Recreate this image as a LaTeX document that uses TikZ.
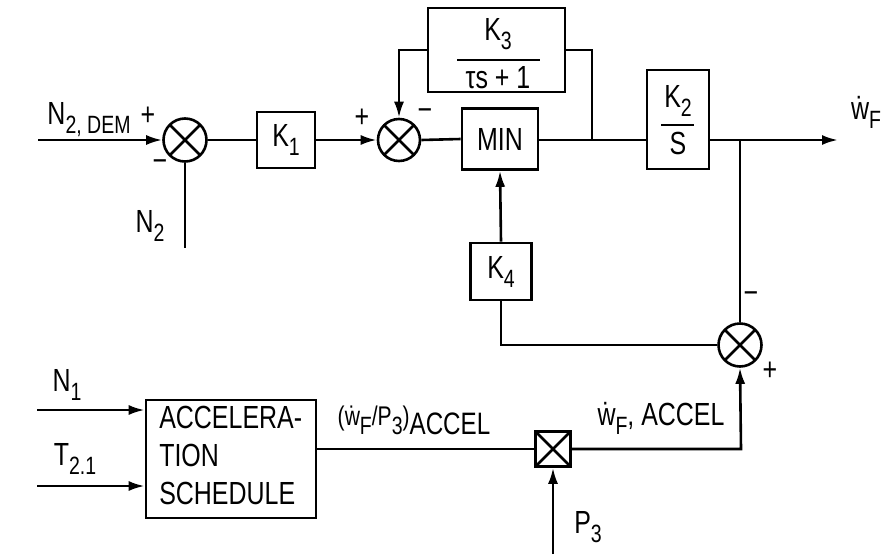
\documentclass[tikz,border=0pt]{standalone}
\usepackage{fontspec}
\setmainfont{Liberation Sans}[FakeStretch=0.78]
\usetikzlibrary{arrows.meta}
\newcommand\wdott{\leavevmode\setbox0\hbox{w}\hbox to \wd0{\hss\char"02D9\hss}\kern-\wd0\box0}
\newcommand\sbs[1]{\raisebox{-9pt}{\fontsize{25}{25}\selectfont #1}}
\begin{document}
\begin{tikzpicture}[x=1pt,y=-1pt,line width=2.6pt,
  every node/.style={font=\fontsize{32}{38}\selectfont, inner sep=0pt},
  blk/.style={draw, rectangle, inner sep=0pt},
  sumj/.style={draw, circle, minimum size=43pt, inner sep=0pt,
    path picture={\draw[line width=2.6pt]
      ([shift={(45:30pt)}]path picture bounding box.center) -- ([shift={(225:30pt)}]path picture bounding box.center)
      ([shift={(135:30pt)}]path picture bounding box.center) -- ([shift={(-45:30pt)}]path picture bounding box.center);}},
  mulbox/.style={draw, rectangle, minimum size=35pt, inner sep=0pt,
    path picture={\draw[line width=2.6pt]
      (path picture bounding box.north west) -- (path picture bounding box.south east)
      (path picture bounding box.north east) -- (path picture bounding box.south west);}},
  arr/.style={-{Latex[length=16pt,width=10pt]}},
  lbl/.style={inner sep=0pt}]
\useasboundingbox (0,0) rectangle (885,554);
% top row
\coordinate (in1) at (38,140);
\node[sumj] (s1) at (185,140) {};
\node[lbl] (n2dem) at (89,120) {N\sbs{2, DEM}};
\node[lbl] (p1) at (148,116) {+};
\node[lbl] (m1) at (160,166) {\textminus};
\coordinate (n2end) at (185,248);
\node[lbl] (n2) at (150,226) {N\sbs{2}};
\node[blk, minimum width=58pt, minimum height=56pt] (k1) at (286,140) {K\sbs{1}};
\node[sumj, minimum size=42pt] (s2) at (399,140) {};
\node[lbl] (p2) at (362,118) {+};
\node[lbl] (m2) at (425,115) {\textminus};
\node[blk, minimum width=137pt, minimum height=84pt] (k3) at (496.5,50) {};
\node[lbl] (k3n) at (498,34) {K\sbs{3}};
\coordinate (k3l) at (457,60);
\coordinate (k3r) at (540,60);
\node[lbl] (k3d) at (498,78) {τs + 1};
\node[blk, minimum width=76pt, minimum height=61pt] (mn) at (500,139) {MIN};
\coordinate (j1) at (592,140);
\node[blk, minimum width=62pt, minimum height=99pt] (k2) at (678,119.5) {};
\node[lbl] (k2n) at (678,101) {K\sbs{2}};
\coordinate (k2l) at (661,125);
\coordinate (k2r) at (694,125);
\node[lbl] (k2d) at (678,143) {S};
\coordinate (j2) at (740,140);
\coordinate (out) at (838,140);
\node[lbl] (wf) at (866,112) {\wdott\sbs{F}};
% middle
\node[blk, minimum width=61pt, minimum height=57pt] (k4) at (501,271.5) {K\sbs{4}};
\node[sumj] (s3) at (740,345) {};
\node[lbl] (m3) at (751,298) {\textminus};
\node[lbl] (p3) at (770,371) {+};
\coordinate (k4c) at (501,345);
% bottom
\node[blk, minimum width=170pt, minimum height=118pt] (acc) at (231,459) {};
\node[lbl, align=left, anchor=north west] (acct) at (158,405) {ACCELERA-\\TION\\SCHEDULE};
\coordinate (n1s) at (37,410);
\coordinate (t2s) at (37,486);
\node[lbl] (n1) at (67,385) {N\sbs{1}};
\node[lbl] (t21) at (75,459) {T\sbs{2.1}};
\node[mulbox] (mul) at (553,449) {};
\node[lbl] (wfp3) at (414,420) {\fontsize{27}{27}\selectfont(\wdott\sbs{F}/P\sbs{3})\sbs{\fontsize{31}{31}\selectfont ACCEL}};
\coordinate (p3s) at (553,554);
\node[lbl] (p3l) at (588,527) {P\sbs{3}};
\coordinate (c3) at (741,449);
\node[lbl] (wfacc) at (661,418) {\wdott\sbs{F}, ACCEL};
% connectors
\draw[arr] (in1) -- (s1.west);
\draw (s1.south) -- (n2end);
\draw (s1.east) -- (k1.west);
\draw[arr] (k1.east) -- (s2.west);
\draw (s2.east) -- (mn.west);
\draw (mn.east |- j1) -- (j1) -- (k2.west |- j1);
\draw (j1) |- (k3.east);
\draw[arr] (k3.west) -| (s2.north);
\draw (k3l) -- (k3r);
\draw (k2l) -- (k2r);
\draw[arr] (k2.east |- j2) -- (out);
\draw (j2) -- (s3.north);
\draw[arr] (k4.north) -- (mn.south);
\draw (k4.south) -- (k4c) -- (s3.west);
\draw[arr] (n1s) -- (acc.west |- n1s);
\draw[arr] (t2s) -- (acc.west |- t2s);
\draw (acc.east |- mul.west) -- (mul.west);
\draw[arr] (p3s) -- (mul.south);
\draw[arr] (mul.east) -- (c3) -- (s3.south);
\end{tikzpicture}
\end{document}
